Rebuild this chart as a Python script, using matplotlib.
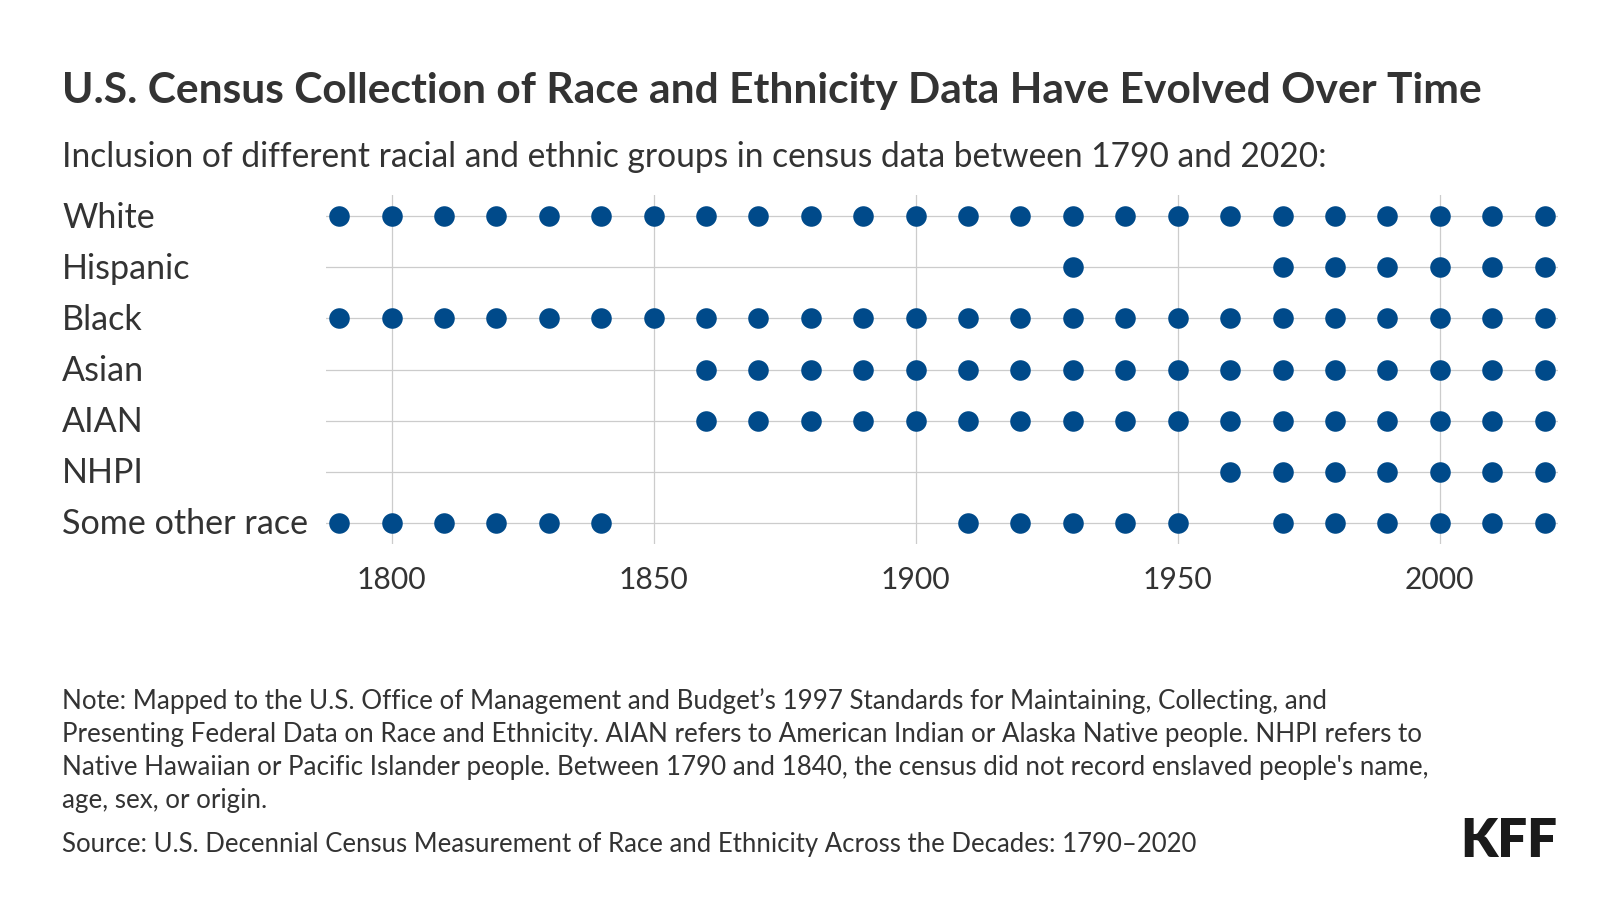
import matplotlib
matplotlib.use("Agg")
import matplotlib.pyplot as plt
import matplotlib.transforms as mtransforms

plt.rcParams['font.family'] = ['Lato', 'DejaVu Sans']

# ---- data ----
groups = ["White", "Hispanic", "Black", "Asian", "AIAN", "NHPI", "Some other race"]
white = list(range(1790, 2030, 10))
hispanic = [1930, 1970, 1980, 1990, 2000, 2010, 2020]
black = list(range(1790, 2030, 10))
asian = [1860, 1870, 1880, 1890, 1900, 1910, 1920, 1930, 1940, 1950, 1960,
         1970, 1980, 1990, 2000, 2010, 2020]
aian = [1860, 1870, 1880, 1890, 1900, 1910, 1920, 1930, 1940, 1950, 1960,
        1970, 1980, 1990, 2000, 2010, 2020]
nhpi = [1960, 1970, 1980, 1990, 2000, 2010, 2020]
other = [1790, 1800, 1810, 1820, 1830, 1840, 1910, 1920, 1930, 1940, 1950,
         1970, 1980, 1990, 2000, 2010, 2020]
series = [white, hispanic, black, asian, aian, nhpi, other]
xticks = [1800, 1850, 1900, 1950, 2000]

title = "U.S. Census Collection of Race and Ethnicity Data Have Evolved Over Time"
subtitle = "Inclusion of different racial and ethnic groups in census data between 1790 and 2020:"
note_lines = [
    "Note: Mapped to the U.S. Office of Management and Budget\u2019s 1997 Standards for Maintaining, Collecting, and",
    "Presenting Federal Data on Race and Ethnicity. AIAN refers to American Indian or Alaska Native people. NHPI refers to",
    "Native Hawaiian or Pacific Islander people. Between 1790 and 1840, the census did not record enslaved people's name,",
    "age, sex, or origin.",
]
source = "Source: U.S. Decennial Census Measurement of Race and Ethnicity Across the Decades: 1790\u20132020"

# ---- style ----
W, H = 1620, 920
BLUE = "#004A8A"
TXT = "#333333"
GRID = "#cccccc"

fig = plt.figure(figsize=(W / 100, H / 100), dpi=100)
fig.patch.set_facecolor("white")

AX_L, AX_R, AX_T, AX_B = 326, 1557.7, 196, 545
ax = fig.add_axes([AX_L / W, 1 - AX_B / H, (AX_R - AX_L) / W, (AX_B - AX_T) / H])
ax.set_xlim(1787.5, 2022.5)
ax.set_ylim(len(groups) - 1 + 0.42, -0.42)

for i, yrs in enumerate(series):
    ax.plot(yrs, [i] * len(yrs), linestyle="none", marker="o", markersize=14.8,
            markerfacecolor=BLUE, markeredgecolor=BLUE, markeredgewidth=0, zorder=3)

for i in range(len(groups)):
    ax.axhline(i, color=GRID, linewidth=0.9, zorder=1)
for xv in xticks:
    ax.axvline(xv, color=GRID, linewidth=0.9, zorder=1)

for s in ax.spines.values():
    s.set_visible(False)

ax.set_xticks(xticks)
ax.set_xticklabels([str(x) for x in xticks], fontsize=21.6, color=TXT)
ax.tick_params(axis="x", length=0, pad=15)
ax.set_yticks([])

# row labels: left aligned at x=62px, cap-centred on the row line
blend = mtransforms.blended_transform_factory(ax.transAxes, ax.transData)
shift = mtransforms.ScaledTranslation(0, -10.5 / 100, fig.dpi_scale_trans)
x_lab = (62 - AX_L) / (AX_R - AX_L)
for i, g in enumerate(groups):
    ax.text(x_lab, i, g, transform=blend + shift, fontsize=24.6, color=TXT,
            ha="left", va="baseline", clip_on=False)

fig.text(62 / W, 1 - 102.7 / H, title, fontsize=30.6, fontweight="bold",
         color=TXT, va="baseline", ha="left")
fig.text(62 / W, 1 - 166.7 / H, subtitle, fontsize=24.15, color=TXT,
         va="baseline", ha="left")

note_base = [709, 742, 775, 808]
for yb, line in zip(note_base, note_lines):
    fig.text(62 / W, 1 - yb / H, line, fontsize=18.7, color=TXT,
             va="baseline", ha="left")
fig.text(62 / W, 1 - 852 / H, source, fontsize=18.5, color=TXT,
         va="baseline", ha="left")

fig.text(1557 / W, 1 - 857 / H, "KFF", fontsize=38, fontweight="heavy",
         color="#1a1a1a", va="baseline", ha="right")

fig.savefig("out.png", dpi=100, facecolor="white")
